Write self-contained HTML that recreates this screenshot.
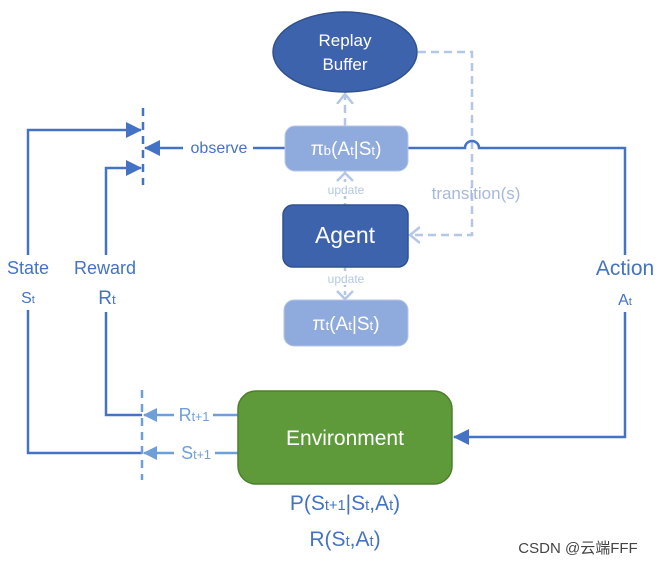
<!DOCTYPE html>
<html><head><meta charset="utf-8"><style>
body{margin:0;background:#fff;}
svg{display:block;font-family:"Liberation Sans",sans-serif;}
.s{font-size:70%;}
</style></head><body>
<svg width="663" height="566" viewBox="0 0 663 566" xmlns="http://www.w3.org/2000/svg">
<defs>
<marker id="ab" markerWidth="16" markerHeight="18" refX="15" refY="9" orient="auto" markerUnits="userSpaceOnUse"><path d="M0,1 L16,9 L0,17 z" fill="#4472c4"/></marker>
<marker id="al" markerWidth="14" markerHeight="16" refX="13" refY="8" orient="auto" markerUnits="userSpaceOnUse"><path d="M0,1 L14,8 L0,15 z" fill="#6f9fd8"/></marker>
<marker id="ao" markerWidth="12" markerHeight="18" refX="10" refY="9" orient="auto" markerUnits="userSpaceOnUse"><path d="M0,1 L10,9 L0,17" fill="none" stroke="#b4c7e7" stroke-width="2.5"/></marker>
</defs>
<g stroke="#b4c7e7" stroke-width="2.5" stroke-dasharray="8,5" fill="none">
<path d="M418,52 H472 V235 H410" marker-end="url(#ao)"/>
<path d="M345,126 V94" marker-end="url(#ao)"/>
<path d="M345,171 V205" stroke-dasharray="4,4"/>
<path d="M345,267 V300" stroke-dasharray="4,4"/>
</g>
<path d="M337,181 l8,-8 l8,8" stroke="#b4c7e7" stroke-width="2.5" fill="none"/>
<path d="M337,291 l8,8 l8,-8" stroke="#b4c7e7" stroke-width="2.5" fill="none"/>
<rect x="322" y="182" width="46" height="14" fill="#fff"/>
<rect x="322" y="271" width="46" height="14" fill="#fff"/>
<g stroke="#4472c4" stroke-width="2.5" fill="none">
<path d="M408,148 H465 A7,7 0 0 1 479,148 H625 V255"/>
<path d="M625,312 V437 H454" marker-end="url(#ab)"/>
<path d="M28,255 V130 H141" marker-end="url(#ab)"/>
<path d="M106,255 V168 H141" marker-end="url(#ab)"/>
<path d="M28,310 V453 H142"/>
<path d="M106,312 V415 H142"/>
<path d="M253,148 H285"/>
<path d="M183,148 H145" marker-end="url(#ab)"/>
<path d="M143,108 V185" stroke-dasharray="8,6"/>
</g>
<g stroke="#6f9fd8" stroke-width="2.5" fill="none">
<path d="M142,390 V480" stroke-dasharray="8,6"/>
<path d="M174,415 H144" marker-end="url(#al)"/>
<path d="M213,415 H238"/>
<path d="M174,453 H144" marker-end="url(#al)"/>
<path d="M215,453 H238"/>
</g>
<ellipse cx="345" cy="52" rx="72" ry="40" fill="#3d63ad" stroke="#2f528f" stroke-width="1.5"/>
<text x="345" y="46" text-anchor="middle" fill="#fff" font-size="17">Replay</text>
<text x="345" y="70" text-anchor="middle" fill="#fff" font-size="17">Buffer</text>
<rect x="285" y="126" width="123" height="45" rx="10" fill="#8faadc" stroke="#b4c7e7"/>
<text x="346" y="155" text-anchor="middle" fill="#fff" font-size="19">π<tspan class="s">b</tspan>(A<tspan class="s">t</tspan>|S<tspan class="s">t</tspan>)</text>
<rect x="283" y="205" width="125" height="62" rx="10" fill="#3d63ad" stroke="#2f528f" stroke-width="1.5"/>
<text x="345" y="243" text-anchor="middle" fill="#fff" font-size="23">Agent</text>
<rect x="284" y="300" width="124" height="46" rx="10" fill="#8faadc" stroke="#b4c7e7"/>
<text x="346" y="330" text-anchor="middle" fill="#fff" font-size="19">π<tspan class="s">t</tspan>(A<tspan class="s">t</tspan>|S<tspan class="s">t</tspan>)</text>
<rect x="238" y="391" width="214" height="93" rx="18" fill="#5f9a3a" stroke="#4c7f2c" stroke-width="1.5"/>
<text x="345" y="445" text-anchor="middle" fill="#fff" font-size="21">Environment</text>
<g fill="#b4c7e7" font-size="12" text-anchor="middle"><text x="346" y="194">update</text><text x="346" y="283">update</text></g>
<text x="476" y="199" text-anchor="middle" fill="#a6b9dc" font-size="17">transition(s)</text>
<g fill="#4472c4" text-anchor="middle">
<text x="219" y="153" font-size="16">observe</text>
<text x="28" y="274" font-size="18">State</text>
<text x="28" y="303" font-size="16">S<tspan class="s">t</tspan></text>
<text x="105" y="274" font-size="18">Reward</text>
<text x="107" y="304" font-size="19">R<tspan class="s">t</tspan></text>
<text x="625" y="275" font-size="21">Action</text>
<text x="625" y="305" font-size="16">A<tspan class="s">t</tspan></text>
<text x="345" y="510" font-size="21">P(S<tspan class="s">t+1</tspan>|S<tspan class="s">t</tspan>,A<tspan class="s">t</tspan>)</text>
<text x="345" y="546" font-size="21">R(S<tspan class="s">t</tspan>,A<tspan class="s">t</tspan>)</text>
</g>
<g fill="#6f9fd8" text-anchor="middle"><text x="194" y="421" font-size="18">R<tspan class="s">t+1</tspan></text><text x="196" y="459" font-size="18">S<tspan class="s">t+1</tspan></text></g>
<text x="578" y="553" text-anchor="middle" fill="#444" font-size="15" font-family="Liberation Sans,Noto Sans CJK SC,sans-serif">CSDN @云端FFF</text>
</svg>
</body></html>
